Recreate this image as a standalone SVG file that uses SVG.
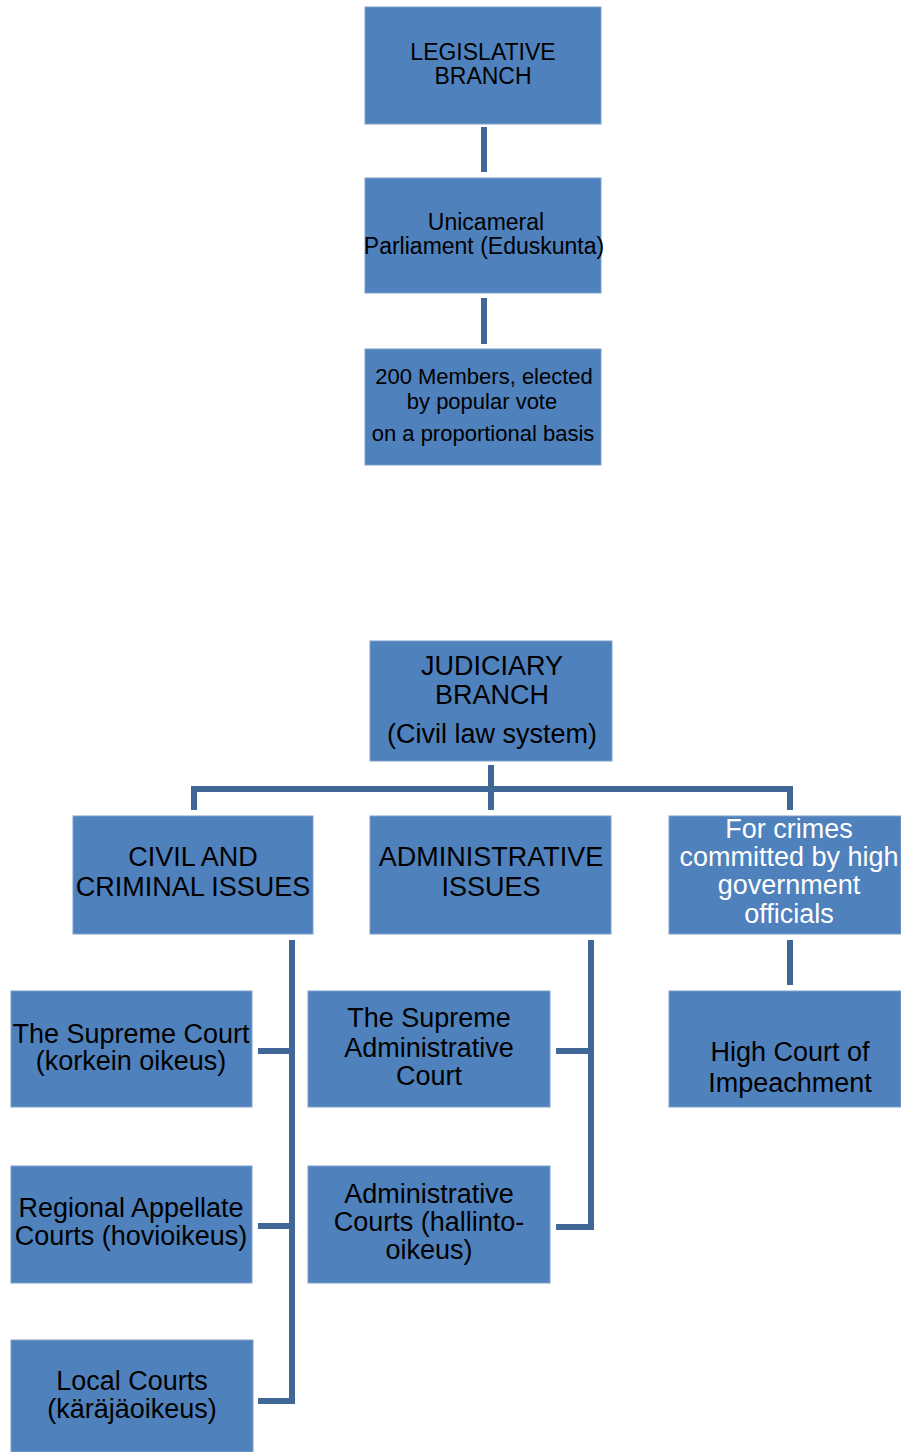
<svg xmlns="http://www.w3.org/2000/svg" width="901" height="1452" viewBox="0 0 901 1452">
<style>
.box{fill:#4F81BD;stroke:#7FA0CC;stroke-width:1}
.t{font-family:"Liberation Sans",Arial,sans-serif;fill:#000;text-anchor:middle}
.w{fill:#fff}
.s23{font-size:23px}
.s22{font-size:22px}
.s26{font-size:27px}
.c{fill:none;stroke:#3F6797;stroke-width:6;stroke-linecap:butt;stroke-linejoin:miter}
</style>
<rect width="901" height="1452" fill="#fff"/>
<g id="connectors">
<path class="c" d="M484 127V172"/>
<path class="c" d="M484 298V344"/>
<path class="c" d="M491 765V810"/>
<path class="c" d="M194 810V789H790V810"/>
<path class="c" d="M292 940V1401H258"/>
<path class="c" d="M258 1051H292"/>
<path class="c" d="M258 1226H292"/>
<path class="c" d="M591 940V1227H556"/>
<path class="c" d="M556 1051H591"/>
<path class="c" d="M790 940V985"/>
</g>
<g id="legislative">
<rect class="box" x="365" y="7" width="236" height="117"/>
<text class="t s23" x="483" y="60">LEGISLATIVE</text>
<text class="t s23" x="483" y="84">BRANCH</text>
</g>
<g id="parliament">
<rect class="box" x="365" y="178" width="236" height="115"/>
<text class="t s23" x="486" y="230">Unicameral</text>
<text class="t s23" x="484" y="254">Parliament (Eduskunta)</text>
</g>
<g id="members">
<rect class="box" x="365" y="349" width="236" height="116"/>
<text class="t s22" x="484" y="384">200 Members, elected</text>
<text class="t s22" x="482" y="409">by popular vote</text>
<text class="t s22" x="483" y="441">on a proportional basis</text>
</g>
<g id="judiciary">
<rect class="box" x="370" y="641" width="242" height="120"/>
<text class="t s26" x="492" y="675">JUDICIARY</text>
<text class="t s26" x="492" y="704">BRANCH</text>
<text class="t s26" x="492" y="743">(Civil law system)</text>
</g>
<g id="civil">
<rect class="box" x="73" y="816" width="240" height="118"/>
<text class="t s26" x="193" y="866">CIVIL AND</text>
<text class="t s26" x="193" y="896">CRIMINAL ISSUES</text>
</g>
<g id="administrative">
<rect class="box" x="370" y="816" width="241" height="118"/>
<text class="t s26" x="491" y="866">ADMINISTRATIVE</text>
<text class="t s26" x="491" y="896">ISSUES</text>
</g>
<g id="crimes">
<rect class="box" x="669" y="816" width="232" height="118"/>
<text class="t s26 w" x="789" y="838">For crimes</text>
<text class="t s26 w" x="789" y="866">committed by high</text>
<text class="t s26 w" x="789" y="894">government</text>
<text class="t s26 w" x="789" y="923">officials</text>
</g>
<g id="supreme-court">
<rect class="box" x="11" y="991" width="241" height="116"/>
<text class="t s26" x="131" y="1043">The Supreme Court</text>
<text class="t s26" x="131" y="1070">(korkein oikeus)</text>
</g>
<g id="appellate">
<rect class="box" x="11" y="1166" width="241" height="117"/>
<text class="t s26" x="131" y="1217">Regional Appellate</text>
<text class="t s26" x="131" y="1245">Courts (hovioikeus)</text>
</g>
<g id="local">
<rect class="box" x="11" y="1340" width="242" height="112"/>
<text class="t s26" x="132" y="1390">Local Courts</text>
<text class="t s26" x="132" y="1418">(käräjäoikeus)</text>
</g>
<g id="supreme-admin">
<rect class="box" x="308" y="991" width="242" height="116"/>
<text class="t s26" x="429" y="1027">The Supreme</text>
<text class="t s26" x="429" y="1057">Administrative</text>
<text class="t s26" x="429" y="1085">Court</text>
</g>
<g id="admin-courts">
<rect class="box" x="308" y="1166" width="242" height="117"/>
<text class="t s26" x="429" y="1203">Administrative</text>
<text class="t s26" x="429" y="1231">Courts (hallinto-</text>
<text class="t s26" x="429" y="1259">oikeus)</text>
</g>
<g id="impeachment">
<rect class="box" x="669" y="991" width="232" height="116"/>
<text class="t s26" x="790" y="1061">High Court of</text>
<text class="t s26" x="790" y="1092">Impeachment</text>
</g>
</svg>
